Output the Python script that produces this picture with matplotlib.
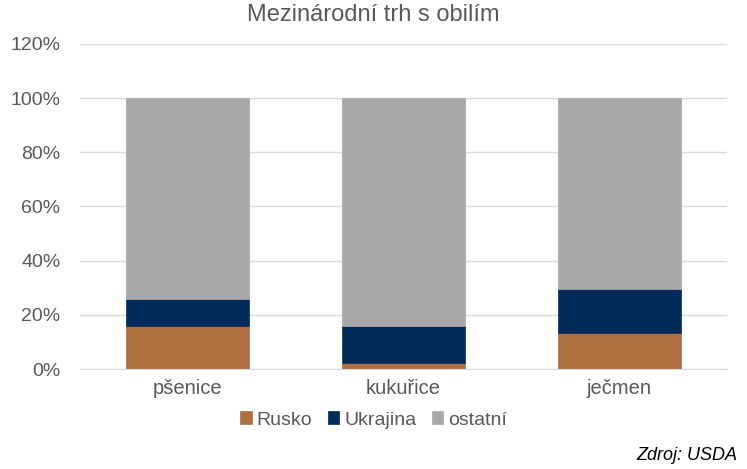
import matplotlib
matplotlib.use("Agg")
import matplotlib.pyplot as plt
import numpy as np

categories = ["pšenice", "kukuřice", "ječmen"]
rusko = [16.0, 2.3, 13.2]
ukrajina = [9.7, 13.6, 16.5]
ostatni = [100 - r - u for r, u in zip(rusko, ukrajina)]
series_names = ["Rusko", "Ukrajina", "ostatní"]
colors = ["#AF6F40", "#002B5A", "#A8A8A8"]
yticks = [0, 20, 40, 60, 80, 100, 120]

plt.rcParams['font.family'] = ['Liberation Sans', 'DejaVu Sans']
fig = plt.figure(figsize=(7.47, 4.69), dpi=100)
ax = fig.add_axes([80/747, 1-369/469, (727-80)/747, (369-44)/469])

x = np.arange(len(categories))
w = 0.57
bottom = np.zeros(len(categories))
for name, vals, c in zip(series_names, [rusko, ukrajina, ostatni], colors):
    ax.bar(x, vals, w, bottom=bottom, color=c, label=name, zorder=3,
           edgecolor=c, linewidth=0.5)
    bottom += np.array(vals)

ax.set_xlim(-0.5, len(categories) - 0.5)
ax.set_ylim(0, 120)
ax.set_yticks(yticks)
ax.set_yticklabels([f"{t}%" for t in yticks])
ax.set_xticks(x)
ax.set_xticklabels(categories)
ax.tick_params(axis='y', length=0, labelsize=14, colors='#595959', pad=14)
ax.tick_params(axis='x', length=0, labelsize=14.5, colors='#595959', pad=7)
ax.grid(axis='y', color='#D9D9D9', linewidth=1, zorder=0)
for s in ['top', 'right', 'left']:
    ax.spines[s].set_visible(False)
ax.spines['bottom'].set_color('#D9D9D9')
ax.spines['bottom'].set_zorder(4)

fig.text(0.5, 1-15/469, "Mezinárodní trh s obilím", ha='center', va='center',
         fontsize=17, color='#595959')

handles, labels = ax.get_legend_handles_labels()
fig.legend(handles, labels, loc='center', bbox_to_anchor=(0.5, 1-420/469),
           ncol=3, frameon=False, fontsize=14, labelcolor='#595959',
           handlelength=0.6, handleheight=0.6, handletextpad=0.25, columnspacing=0.8)

fig.text(737/747, 1-455/469, "Zdroj: USDA", ha='right', va='center',
         fontsize=13, style='italic', color='black')

fig.savefig("out.png", dpi=100)
